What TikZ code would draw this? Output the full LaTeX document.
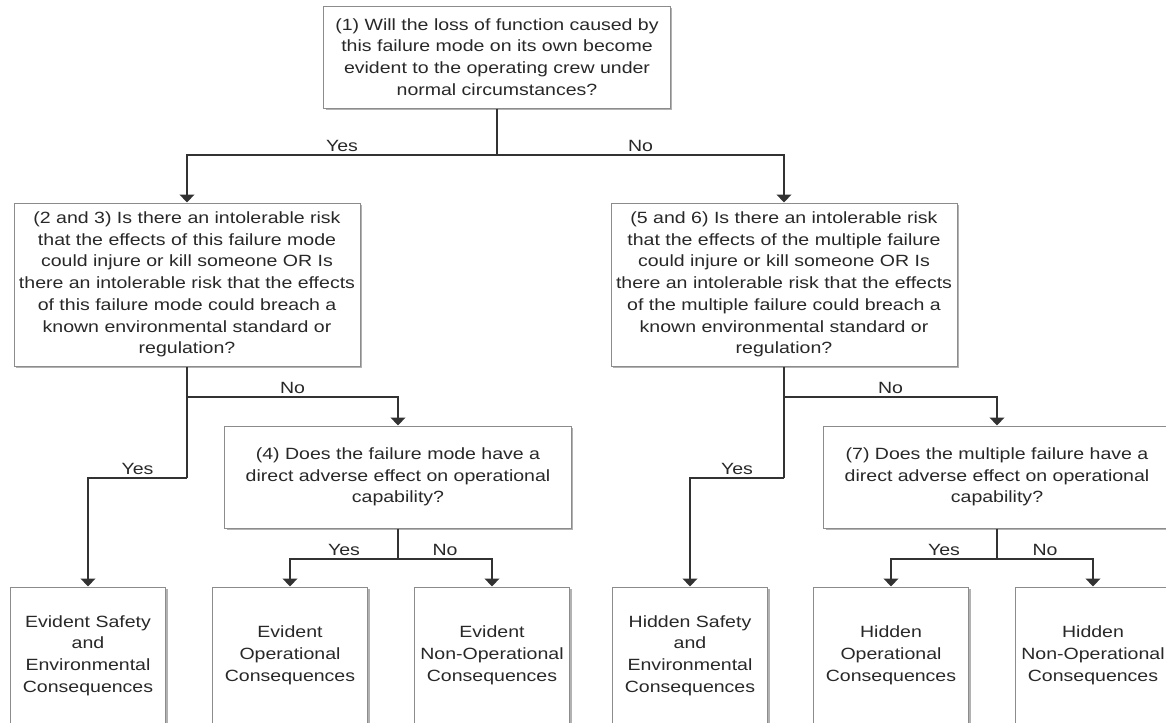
\documentclass[tikz,border=0pt]{standalone}
\usepackage{fontspec}
\setmainfont{Liberation Sans}[FakeStretch=1.2]
\usetikzlibrary{arrows.meta,shadows}
\definecolor{boxgray}{RGB}{140,140,140}
\definecolor{linegray}{RGB}{50,50,50}
\definecolor{textgray}{RGB}{40,40,40}
\begin{document}
\begin{tikzpicture}[x=0.75pt,y=-0.75pt,
    font=\fontsize{12.2pt}{16.3pt}\selectfont,
    box/.style={draw=boxgray,line width=0.75pt,fill=white,align=center,inner sep=0pt,text=textgray,
      drop shadow={shadow xshift=1.5pt,shadow yshift=-1.5pt,fill=black!30,opacity=1}},
    question/.style={box,minimum width=260pt,minimum height=76.5pt},
    risk/.style={box,minimum width=259.5pt,minimum height=122.25pt},
    outcome/.style={box,minimum width=116.25pt,minimum height=102.75pt},
    stem/.style={draw=linegray,line width=1.3pt},
    link/.style={stem,-{Triangle[width=11pt,length=6pt]}},
    lbl/.style={text=textgray,anchor=base,yshift=2.5pt,inner sep=0pt}]
  \useasboundingbox (0,0) rectangle (1166,722);
  \clip (0,0) rectangle (1166,722);
  \node[question] (q1) at (497,57)
    {(1) Will the loss of function caused by\\this failure mode on its own become\\evident to the operating crew under\\normal circumstances?};
  \node[risk] (q23) at (187,284.5)
    {(2 and 3) Is there an intolerable risk\\that the effects of this failure mode\\could injure or kill someone OR Is\\there an intolerable risk that the effects\\of this failure mode could breach a\\known environmental standard or\\regulation?};
  \node[risk] (q56) at (784,284.5)
    {(5 and 6) Is there an intolerable risk\\that the effects of the multiple failure\\could injure or kill someone OR Is\\there an intolerable risk that the effects\\of the multiple failure could breach a\\known environmental standard or\\regulation?};
  \node[question] (q4) at (398,477)
    {(4) Does the failure mode have a\\direct adverse effect on operational\\capability?};
  \node[question] (q7) at (997,477)
    {(7) Does the multiple failure have a\\direct adverse effect on operational\\capability?};
  \node[outcome] (eSafe) at (88,655.5) {Evident Safety\\and\\Environmental\\Consequences};
  \node[outcome] (eOper) at (290,655.5) {Evident\\Operational\\Consequences};
  \node[outcome] (eNonOp) at (492,655.5) {Evident\\Non-Operational\\Consequences};
  \node[outcome] (hSafe) at (690,655.5) {Hidden Safety\\and\\Environmental\\Consequences};
  \node[outcome] (hOper) at (891,655.5) {Hidden\\Operational\\Consequences};
  \node[outcome] (hNonOp) at (1093,655.5) {Hidden\\Non-Operational\\Consequences};

  \coordinate (s1) at (q1.south |- 0,155);
  \coordinate (n23) at (q23.south |- 0,397);
  \coordinate (y23) at (q23.south |- 0,478);
  \coordinate (n56) at (q56.south |- 0,397);
  \coordinate (y56) at (q56.south |- 0,478);
  \coordinate (s4) at (q4.south |- 0,559);
  \coordinate (s7) at (q7.south |- 0,559);

  \draw[stem] (q1) -- (s1);
  \draw[link] (s1) -| node[lbl,pos=0.25]{Yes} (q23);
  \draw[link] (s1) -| node[lbl,pos=0.25]{No} (q56);

  \draw[stem] (q23) -- (y23);
  \draw[link] (n23) -| node[lbl,pos=0.25]{No} (q4);
  \draw[link] (y23) -| node[lbl,pos=0.25]{Yes} (eSafe);
  \draw[stem] (q4) -- (s4);
  \draw[link] (s4) -| node[lbl,pos=0.25]{Yes} (eOper);
  \draw[link] (s4) -| node[lbl,pos=0.25]{No} (eNonOp);

  \draw[stem] (q56) -- (y56);
  \draw[link] (n56) -| node[lbl,pos=0.25]{No} (q7);
  \draw[link] (y56) -| node[lbl,pos=0.25]{Yes} (hSafe);
  \draw[stem] (q7) -- (s7);
  \draw[link] (s7) -| node[lbl,pos=0.25]{Yes} (hOper);
  \draw[link] (s7) -| node[lbl,pos=0.25]{No} (hNonOp);
\end{tikzpicture}
\end{document}
